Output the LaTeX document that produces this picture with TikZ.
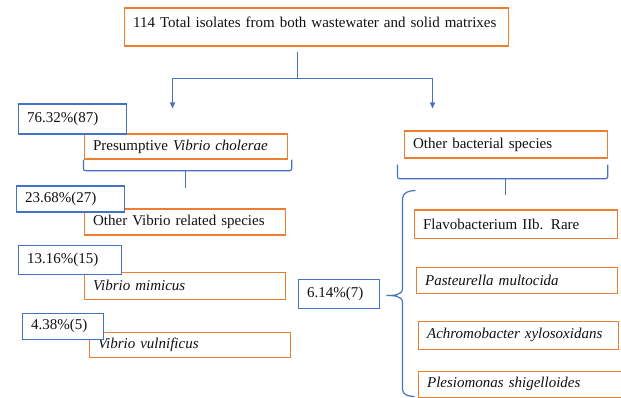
\documentclass[tikz,border=0pt]{standalone}
\usepackage{fontspec}
\setmainfont{Liberation Serif}
\usepackage{xcolor}
\usepackage{tikz}
\usetikzlibrary{arrows.meta}
\definecolor{IsoOrange}  {HTML}{ED7D31}
\definecolor{IsoBlue}    {HTML}{4472C4}
\definecolor{IsoText}    {HTML}{111111}

\tikzset{
  specbox/.style={draw=IsoOrange,fill=white,line width=1.2pt,anchor=north west,
        inner xsep=9pt,inner ysep=0pt,align=left,text=IsoText,
        font=\fontsize{15}{18}\selectfont},
  pctbox/.style={specbox,draw=IsoBlue},
  bline/.style={draw=IsoBlue,line width=1.2pt},
  btip/.style={-{Triangle[length=6pt,width=5pt]}},
}

\begin{document}
\begin{tikzpicture}[x=1pt,y=-1pt]
  \fill[white] (0,0) rectangle (621,398);
  \useasboundingbox (0,0) rectangle (621,398);

  \begin{scope}[shift={(0.5,0.5)}]
  \node[specbox,text height=15pt,text depth=15pt,inner ysep=4pt,text width=366pt]
    (total) at (123,7) {114 Total isolates from both wastewater and solid matrixes};

  \node[specbox,minimum height=25pt,text width=185pt] (vchol) at (83,133)
    {Presumptive \textit{Vibrio cholerae}};
  \node[specbox,minimum height=26pt,text width=183pt] (ovibrio) at (83,208)
    {Other Vibrio related species};
  \node[specbox,minimum height=27pt,text width=183pt] (vmimic) at (83,271)
    {\textit{Vibrio mimicus}};
  \node[specbox,minimum height=25pt,text width=183pt] (vvulni) at (88,331)
    {\textit{Vibrio vulnificus}};

  \node[specbox,minimum height=27pt,text width=185pt] (obact) at (403,130)
    {Other bacterial species};
  \node[specbox,minimum height=28pt,text width=185pt] (flavo) at (413,209)
    {Flavobacterium IIb. Rare};
  \node[specbox,minimum height=26pt,text width=183pt] (pmult) at (415,266)
    {\textit{Pasteurella multocida}};
  \node[specbox,minimum height=28pt,text width=182pt] (axylo) at (417,320)
    {\textit{Achromobacter xylosoxidans}};
  \node[specbox,minimum height=26pt,text width=185pt] (pshig) at (417,370)
    {\textit{Plesiomonas shigelloides}};

  \node[pctbox,minimum height=30pt,text width=90pt] (pctvc) at (17,103) {76.32\%(87)};
  \node[pctbox,minimum height=26pt,text width=90pt] (pctov) at (15,185) {23.68\%(27)};
  \node[pctbox,minimum height=29pt,text width=85pt] (pctvm) at (17,244) {13.16\%(15)};
  \node[pctbox,minimum height=26pt,text width=63pt] (pctvv) at (21,312) {4.38\%(5)};
  \node[pctbox,minimum height=29pt,text width=63pt] (pctob) at (297,278) {6.14\%(7)};

  \coordinate (split) at (297,78);
  \coordinate (ltip) at (172,108);
  \coordinate (rtip) at (432,108);
  \coordinate (bracetip) at (386,295);

  \draw[bline] ([yshift=-5pt]total.south -| split) -- (split);
  \draw[bline,btip] (split) -| (ltip);
  \draw[bline,btip] (split) -| (rtip);

  \draw[bline,rounded corners=2pt] (vchol.south west) -- ++(0,11) -| ([xshift=4pt]vchol.south east);
  \draw[bline] (vchol.south) ++(0,11) -- ++(0,17);

  \draw[bline,rounded corners=2pt] ([xshift=-6pt,yshift=-6pt]obact.south west) -- ++(0,14)
    -| ([yshift=-6pt]obact.south east);
  \draw[bline] (obact.south) ++(0,20) -- ++(0,16);

  \draw[bline] (415,190) to[out=180,in=90] (402,198) -- (402,288)
    to[out=-90,in=0] (bracetip) to[out=0,in=90] (402,302) -- (402,389)
    to[out=-90,in=180] (414,396);
  \end{scope}
\end{tikzpicture}
\end{document}
